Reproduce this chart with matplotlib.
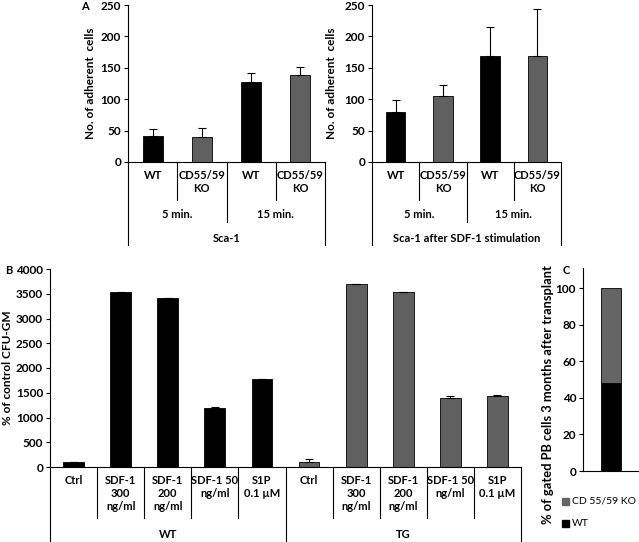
import matplotlib.pyplot as plt
from matplotlib.patches import Rectangle

plt.rcParams['font.family'] = ['Lato', 'DejaVu Sans']
plt.rcParams['font.weight'] = 'bold'
plt.rcParams['font.size'] = 8

# panel A: adhesion assay
a_cats = ['WT', 'CD55/59\nKO', 'WT', 'CD55/59\nKO']
a_times = ['5 min.', '15 min.']
a_sca1 = [42, 40, 127, 139]
a_sca1_err = [11, 14, 14, 13]
a_sdf = [80, 105, 169, 168]
a_sdf_err = [19, 18, 46, 75]
a_colors = ['black', '#606060', 'black', '#606060']

# panel B: chemotaxis
b_cats = ['Ctrl', 'SDF-1\n300\nng/ml', 'SDF-1\n200\nng/ml', 'SDF-1 50\nng/ml', 'S1P\n0.1 µM']
b_groups = ['WT', 'TG']
b_wt = [101, 3539, 3417, 1196, 1770]
b_wt_err = [5, 5, 5, 10, 12]
b_tg = [101, 3696, 3534, 1399, 1432]
b_tg_err = [60, 8, 5, 27, 14]

# panel C: chimerism
c_wt = 48
c_ko = 52

W, H = 639, 542
GRAY = '#606060'


def box(x0, x1, y0, y1):
    """pixel box (y0 = top) -> figure fraction rect"""
    return [x0 / W, 1 - y1 / H, (x1 - x0) / W, (y1 - y0) / H]


def style(ax):
    for s in ['top', 'right']:
        ax.spines[s].set_visible(False)
    for s in ['left', 'bottom']:
        ax.spines[s].set_linewidth(0.8)
    ax.tick_params(axis='y', length=3, width=0.8, pad=2, labelsize=8.5)
    ax.tick_params(axis='x', length=0, labelbottom=False)


def vline(ax, x, frac):
    ax.plot([x, x], [0, frac], color='black', lw=0.8,
            transform=ax.get_xaxis_transform(), clip_on=False)


def ctext(ax, x, frac, s, va='center'):
    ax.text(x, frac, s, transform=ax.get_xaxis_transform(),
            ha='center', va=va, linespacing=1.2)


def panel_a(rect, vals, errs, title):
    ax = fig.add_axes(box(*rect))
    base, h = rect[3], rect[3] - rect[2]
    fr = lambda py: -(py - base) / h
    x = range(len(vals))
    ax.bar(x, vals, width=0.41, color=a_colors, edgecolor='black', lw=0.6)
    ax.errorbar(x, vals, yerr=[[0] * len(vals), errs], fmt='none',
                ecolor='black', elinewidth=0.8, capsize=3, capthick=0.8)
    ax.set_xlim(-0.5, 3.5)
    ax.set_ylim(0, 250)
    ax.set_yticks(range(0, 251, 50))
    style(ax)
    for i, s in enumerate(a_cats):
        ctext(ax, i, fr(170), s, va='top')
    for i, s in enumerate(a_times):
        ctext(ax, 2 * i + 0.5, fr(214), s)
    ctext(ax, 1.5, fr(238), title)
    vline(ax, 0.5, fr(200))
    vline(ax, 2.5, fr(200))
    vline(ax, 1.5, fr(222))
    vline(ax, -0.5, fr(245))
    vline(ax, 3.5, fr(245))
    return ax


fig = plt.figure(figsize=(6.39, 5.42), dpi=100)

panel_a((128, 325, 5, 162), a_sca1, a_sca1_err, 'Sca-1')
panel_a((372, 561, 5, 162), a_sdf, a_sdf_err, 'Sca-1 after SDF-1 stimulation')
fig.text(90 / W, 1 - 83 / H, 'No. of adherent  cells', rotation=90, ha='center', va='center', fontsize=8.5)
fig.text(332 / W, 1 - 83 / H, 'No. of adherent  cells', rotation=90, ha='center', va='center', fontsize=8.5)
fig.text(85 / W, 1 - 7 / H, 'A', ha='center', va='center')

# panel B
rect = (50, 521, 269, 467)
axb = fig.add_axes(box(*rect))
base, h = rect[3], rect[3] - rect[2]
fr = lambda py: -(py - base) / h
vals = b_wt + b_tg
errs = b_wt_err + b_tg_err
cols = ['black'] * len(b_wt) + [GRAY] * len(b_tg)
x = range(len(vals))
axb.bar(x, vals, width=0.44, color=cols, edgecolor='black', lw=0.6)
axb.errorbar(x, vals, yerr=[[0] * len(vals), errs], fmt='none',
             ecolor='black', elinewidth=0.8, capsize=3, capthick=0.8)
axb.set_xlim(-0.5, 9.5)
axb.set_ylim(0, 4000)
axb.set_yticks(range(0, 4001, 500))
style(axb)
for i, s in enumerate(b_cats * 2):
    ctext(axb, i, fr(475), s, va='top')
for g, s in enumerate(b_groups):
    ctext(axb, 5 * g + 2, fr(535), s)
for i in [0.5, 1.5, 2.5, 3.5, 5.5, 6.5, 7.5, 8.5]:
    vline(axb, i, fr(518))
for i in [-0.5, 4.5, 9.5]:
    vline(axb, i, fr(560))
fig.text(8 / W, 1 - 368 / H, '% of control CFU-GM', rotation=90, ha='center', va='center', fontsize=8.5)
fig.text(9 / W, 1 - 270 / H, 'B', ha='center', va='center')

# panel C
axc = fig.add_axes(box(583, 645, 268, 471))
axc.bar([0], [c_wt], width=0.36, color='black', edgecolor='black', lw=0.6)
axc.bar([0], [c_ko], bottom=[c_wt], width=0.36, color='#656565', edgecolor='black', lw=0.6)
axc.set_xlim(-0.5, 0.6)
axc.set_ylim(0, 111)
axc.set_yticks(range(0, 101, 20))
style(axc)
fig.text(548 / W, 1 - 395 / H, '% of gated PB cells 3 months after transplant',
         rotation=90, ha='center', va='center', fontsize=9.3)
fig.text(566 / W, 1 - 270 / H, 'C', ha='center', va='center')

for py, c, s in [(501, '#656565', 'CD 55/59 KO'), (523, 'black', 'WT')]:
    fig.patches.append(Rectangle(((562) / W, 1 - (py + 3.5) / H), 7 / W, 7 / H,
                                 transform=fig.transFigure, color=c))
    fig.text(572 / W, 1 - py / H, s, ha='left', va='center', fontweight='normal', fontsize=7.5)

fig.savefig('out.png', dpi=100)
